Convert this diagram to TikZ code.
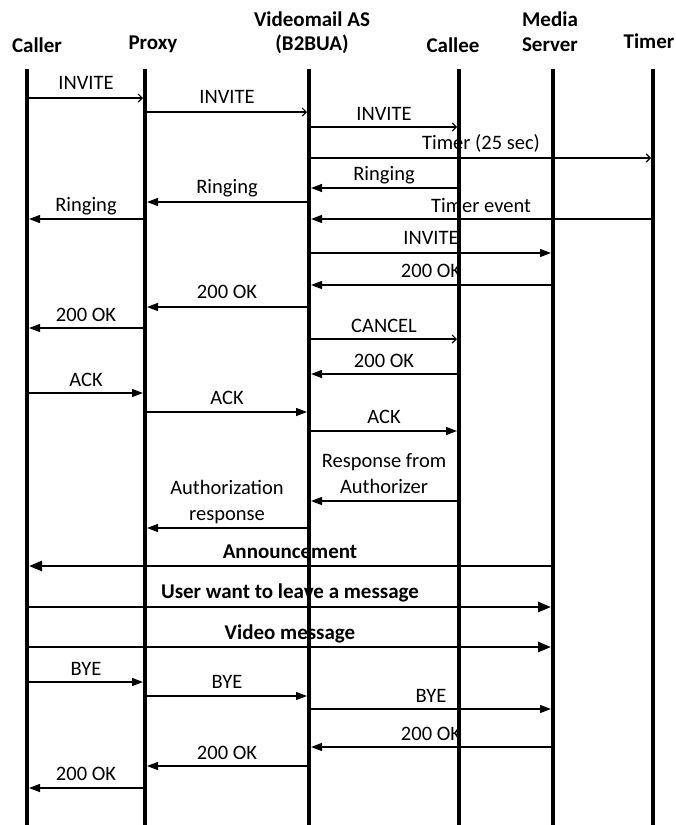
\documentclass[tikz,border=0pt]{standalone}
\usepackage{fontspec}
\setmainfont{Carlito}
\usetikzlibrary{arrows.meta}
\begin{document}
\begin{tikzpicture}[x=1pt,y=-1pt,
  life/.style={line width=4pt},
  hdr/.style={font=\fontsize{21}{24}\selectfont\bfseries, anchor=base, inner sep=0pt},
  lbl/.style={font=\fontsize{20.5}{26}\selectfont, anchor=base, inner sep=0pt, align=center},
  blbl/.style={font=\fontsize{21}{26}\selectfont\bfseries, anchor=base, inner sep=0pt},
  msg/.style={line width=1.3pt, -{Triangle[length=11pt,width=8pt]}, shorten >=2pt},
  omsg/.style={line width=1.1pt, -{Straight Barb[length=4pt,width=8pt]}, shorten >=2pt},
  bmsg/.style={line width=2.6pt, -{Triangle[length=13pt,width=10pt]}, shorten >=2pt},
]
\useasboundingbox (0,0) rectangle (676,825);
% lifelines
\coordinate (caller) at (27,69);  \coordinate (callerB) at (27,825);
\coordinate (proxy)  at (145,69); \coordinate (proxyB)  at (145,825);
\coordinate (as)     at (309,69); \coordinate (asB)     at (309,825);
\coordinate (callee) at (459,69); \coordinate (calleeB) at (459,825);
\coordinate (media)  at (553,69); \coordinate (mediaB)  at (553,825);
\coordinate (timer)  at (653,69); \coordinate (timerB)  at (653,825);
\foreach \l in {caller,proxy,as,callee,media,timer} \draw[life] (\l) -- (\l B);
% headers
\node[hdr] (hcaller) at (37,52) {Caller};
\node[hdr] (hproxy) at (153,49) {Proxy};
\node[hdr] (has1) at (312,26) {Videomail AS};
\node[hdr] (has2) at (312,50) {(B2BUA)};
\node[hdr] (hcallee) at (453,52) {Callee};
\node[hdr] (hmedia1) at (550,26) {Media};
\node[hdr] (hmedia2) at (550,51) {Server};
\node[hdr] (htimer) at (649,48) {Timer};
% messages
\draw[omsg] (caller |- 0,98) -- (proxy |- 0,98);
\node[lbl] (m1) at (86,89) {INVITE};
\draw[omsg] (proxy |- 0,112) -- (as |- 0,112);
\node[lbl] (m2) at (227,103) {INVITE};
\draw[omsg] (as |- 0,127) -- (callee |- 0,127);
\node[lbl] (m3) at (384,120) {INVITE};
\draw[omsg] (as |- 0,158) -- (timer |- 0,158);
\node[lbl] (m4) at (481,149) {Timer (25 sec)};
\draw[msg] (callee |- 0,188) -- (as |- 0,188);
\node[lbl] (m5) at (384,180) {Ringing};
\draw[msg] (as |- 0,202) -- (proxy |- 0,202);
\node[lbl] (m6) at (227,193) {Ringing};
\draw[msg] (proxy |- 0,219) -- (caller |- 0,219);
\node[lbl] (m7) at (86,211) {Ringing};
\draw[msg] (timer |- 0,219) -- (as |- 0,219);
\node[lbl] (m8) at (481,212) {Timer event};
\draw[msg] (as |- 0,253) -- (media |- 0,253);
\node[lbl] (m9) at (431,244) {INVITE};
\draw[msg] (media |- 0,285) -- (as |- 0,285);
\node[lbl] (m10) at (431,277) {200 OK};
\draw[msg] (as |- 0,307) -- (proxy |- 0,307);
\node[lbl] (m11) at (227,298) {200 OK};
\draw[msg] (proxy |- 0,328) -- (caller |- 0,328);
\node[lbl] (m12) at (86,321) {200 OK};
\draw[omsg] (as |- 0,339) -- (callee |- 0,339);
\node[lbl] (m13) at (384,332) {CANCEL};
\draw[msg] (callee |- 0,374) -- (as |- 0,374);
\node[lbl] (m14) at (384,367) {200 OK};
\draw[msg] (caller |- 0,393) -- (proxy |- 0,393);
\node[lbl] (m15) at (86,386) {ACK};
\draw[msg] (proxy |- 0,412) -- (as |- 0,412);
\node[lbl] (m16) at (227,404) {ACK};
\draw[msg] (as |- 0,431) -- (callee |- 0,431);
\node[lbl] (m17) at (384,423) {ACK};
\draw[msg] (callee |- 0,501) -- (as |- 0,501);
\node[lbl] (m18) at (384,493) {Response from\\Authorizer};
\draw[msg] (as |- 0,528) -- (proxy |- 0,528);
\node[lbl] (m19) at (227,520) {Authorization\\response};
\draw[bmsg] (media |- 0,566) -- (caller |- 0,566);
\node[blbl] (m20) at (290,558) {Announcement};
\draw[bmsg] (caller |- 0,607) -- (media |- 0,607);
\node[blbl] (m21) at (290,598) {User want to leave a message};
\draw[bmsg] (caller |- 0,647) -- (media |- 0,647);
\node[blbl] (m22) at (290,639) {Video message};
\draw[msg] (caller |- 0,682) -- (proxy |- 0,682);
\node[lbl] (m23) at (86,675) {BYE};
\draw[msg] (proxy |- 0,696) -- (as |- 0,696);
\node[lbl] (m24) at (227,688) {BYE};
\draw[msg] (as |- 0,709) -- (media |- 0,709);
\node[lbl] (m25) at (431,702) {BYE};
\draw[msg] (media |- 0,747) -- (as |- 0,747);
\node[lbl] (m26) at (431,740) {200 OK};
\draw[msg] (as |- 0,766) -- (proxy |- 0,766);
\node[lbl] (m27) at (227,759) {200 OK};
\draw[msg] (proxy |- 0,788) -- (caller |- 0,788);
\node[lbl] (m28) at (86,780) {200 OK};
\end{tikzpicture}
\end{document}
